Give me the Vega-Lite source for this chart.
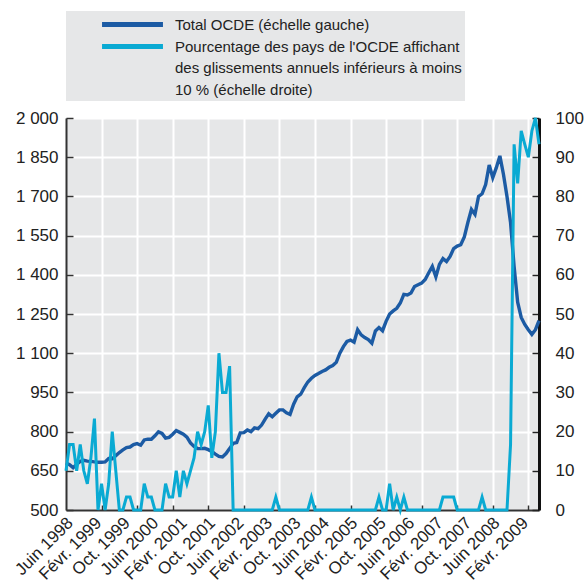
{
  "$schema": "https://vega.github.io/schema/vega-lite/v6.json",
  "autosize": {"type": "none"},
  "width": 473,
  "height": 392,
  "padding": {"left": 66, "top": 118, "right": 48, "bottom": 75},
  "background": "white",
  "config": {
    "view": {"fill": "#e6e7e8", "stroke": null},
    "font": "Liberation Sans"
  },
  "data": {"values": [
    {"mois": "Juin 1998", "total": 680, "pct": 10},
    {"mois": "Juil. 1998", "total": 673, "pct": 16.7},
    {"mois": "Août 1998", "total": 662, "pct": 16.7},
    {"mois": "Sept. 1998", "total": 675, "pct": 10},
    {"mois": "Oct. 1998", "total": 686, "pct": 16.7},
    {"mois": "Nov. 1998", "total": 690, "pct": 10},
    {"mois": "Déc. 1998", "total": 687, "pct": 6.7},
    {"mois": "Janv. 1999", "total": 686, "pct": 13.3},
    {"mois": "Févr. 1999", "total": 684, "pct": 23.3},
    {"mois": "Mars 1999", "total": 683, "pct": 0},
    {"mois": "Avr. 1999", "total": 683, "pct": 6.7},
    {"mois": "Mai 1999", "total": 684, "pct": 0},
    {"mois": "Juin 1999", "total": 697, "pct": 6.7},
    {"mois": "Juil. 1999", "total": 696, "pct": 20},
    {"mois": "Août 1999", "total": 708, "pct": 10},
    {"mois": "Sept. 1999", "total": 720, "pct": 0},
    {"mois": "Oct. 1999", "total": 730, "pct": 0},
    {"mois": "Nov. 1999", "total": 739, "pct": 3.3},
    {"mois": "Déc. 1999", "total": 741, "pct": 3.3},
    {"mois": "Janv. 2000", "total": 750, "pct": 0},
    {"mois": "Févr. 2000", "total": 754, "pct": 0},
    {"mois": "Mars 2000", "total": 748, "pct": 0},
    {"mois": "Avr. 2000", "total": 768, "pct": 6.7},
    {"mois": "Mai 2000", "total": 771, "pct": 3.3},
    {"mois": "Juin 2000", "total": 771, "pct": 3.3},
    {"mois": "Juil. 2000", "total": 784, "pct": 0},
    {"mois": "Août 2000", "total": 799, "pct": 0},
    {"mois": "Sept. 2000", "total": 793, "pct": 0},
    {"mois": "Oct. 2000", "total": 775, "pct": 6.7},
    {"mois": "Nov. 2000", "total": 778, "pct": 3.3},
    {"mois": "Déc. 2000", "total": 790, "pct": 3.3},
    {"mois": "Janv. 2001", "total": 804, "pct": 10},
    {"mois": "Févr. 2001", "total": 797, "pct": 3.3},
    {"mois": "Mars 2001", "total": 790, "pct": 10},
    {"mois": "Avr. 2001", "total": 779, "pct": 6.7},
    {"mois": "Mai 2001", "total": 757, "pct": 10},
    {"mois": "Juin 2001", "total": 743, "pct": 13.3},
    {"mois": "Juil. 2001", "total": 735, "pct": 20},
    {"mois": "Août 2001", "total": 735, "pct": 16.7},
    {"mois": "Sept. 2001", "total": 736, "pct": 20},
    {"mois": "Oct. 2001", "total": 731, "pct": 26.7},
    {"mois": "Nov. 2001", "total": 724, "pct": 13.3},
    {"mois": "Déc. 2001", "total": 714, "pct": 20},
    {"mois": "Janv. 2002", "total": 705, "pct": 40},
    {"mois": "Févr. 2002", "total": 703, "pct": 30},
    {"mois": "Mars 2002", "total": 716, "pct": 30},
    {"mois": "Avr. 2002", "total": 735, "pct": 36.7},
    {"mois": "Mai 2002", "total": 755, "pct": 0},
    {"mois": "Juin 2002", "total": 758, "pct": 0},
    {"mois": "Juil. 2002", "total": 795, "pct": 0},
    {"mois": "Août 2002", "total": 796, "pct": 0},
    {"mois": "Sept. 2002", "total": 806, "pct": 0},
    {"mois": "Oct. 2002", "total": 800, "pct": 0},
    {"mois": "Nov. 2002", "total": 814, "pct": 0},
    {"mois": "Déc. 2002", "total": 811, "pct": 0},
    {"mois": "Janv. 2003", "total": 825, "pct": 0},
    {"mois": "Févr. 2003", "total": 848, "pct": 0},
    {"mois": "Mars 2003", "total": 868, "pct": 0},
    {"mois": "Avr. 2003", "total": 857, "pct": 0},
    {"mois": "Mai 2003", "total": 870, "pct": 3.3},
    {"mois": "Juin 2003", "total": 883, "pct": 0},
    {"mois": "Juil. 2003", "total": 883, "pct": 0},
    {"mois": "Août 2003", "total": 872, "pct": 0},
    {"mois": "Sept. 2003", "total": 866, "pct": 0},
    {"mois": "Oct. 2003", "total": 905, "pct": 0},
    {"mois": "Nov. 2003", "total": 933, "pct": 0},
    {"mois": "Déc. 2003", "total": 943, "pct": 0},
    {"mois": "Janv. 2004", "total": 968, "pct": 0},
    {"mois": "Févr. 2004", "total": 990, "pct": 0},
    {"mois": "Mars 2004", "total": 1004, "pct": 3.3},
    {"mois": "Avr. 2004", "total": 1015, "pct": 0},
    {"mois": "Mai 2004", "total": 1022, "pct": 0},
    {"mois": "Juin 2004", "total": 1030, "pct": 0},
    {"mois": "Juil. 2004", "total": 1036, "pct": 0},
    {"mois": "Août 2004", "total": 1046, "pct": 0},
    {"mois": "Sept. 2004", "total": 1053, "pct": 0},
    {"mois": "Oct. 2004", "total": 1065, "pct": 0},
    {"mois": "Nov. 2004", "total": 1100, "pct": 0},
    {"mois": "Déc. 2004", "total": 1125, "pct": 0},
    {"mois": "Janv. 2005", "total": 1145, "pct": 0},
    {"mois": "Févr. 2005", "total": 1150, "pct": 0},
    {"mois": "Mars 2005", "total": 1142, "pct": 0},
    {"mois": "Avr. 2005", "total": 1190, "pct": 0},
    {"mois": "Mai 2005", "total": 1170, "pct": 0},
    {"mois": "Juin 2005", "total": 1160, "pct": 0},
    {"mois": "Juil. 2005", "total": 1152, "pct": 0},
    {"mois": "Août 2005", "total": 1138, "pct": 0},
    {"mois": "Sept. 2005", "total": 1185, "pct": 0},
    {"mois": "Oct. 2005", "total": 1198, "pct": 3.3},
    {"mois": "Nov. 2005", "total": 1186, "pct": 0},
    {"mois": "Déc. 2005", "total": 1222, "pct": 0},
    {"mois": "Janv. 2006", "total": 1250, "pct": 6.7},
    {"mois": "Févr. 2006", "total": 1262, "pct": 0},
    {"mois": "Mars 2006", "total": 1272, "pct": 3.3},
    {"mois": "Avr. 2006", "total": 1292, "pct": 0},
    {"mois": "Mai 2006", "total": 1325, "pct": 3.3},
    {"mois": "Juin 2006", "total": 1323, "pct": 0},
    {"mois": "Juil. 2006", "total": 1330, "pct": 0},
    {"mois": "Août 2006", "total": 1355, "pct": 0},
    {"mois": "Sept. 2006", "total": 1362, "pct": 0},
    {"mois": "Oct. 2006", "total": 1368, "pct": 0},
    {"mois": "Nov. 2006", "total": 1382, "pct": 0},
    {"mois": "Déc. 2006", "total": 1408, "pct": 0},
    {"mois": "Janv. 2007", "total": 1432, "pct": 0},
    {"mois": "Févr. 2007", "total": 1392, "pct": 0},
    {"mois": "Mars 2007", "total": 1440, "pct": 0},
    {"mois": "Avr. 2007", "total": 1462, "pct": 3.3},
    {"mois": "Mai 2007", "total": 1451, "pct": 3.3},
    {"mois": "Juin 2007", "total": 1470, "pct": 3.3},
    {"mois": "Juil. 2007", "total": 1500, "pct": 3.3},
    {"mois": "Août 2007", "total": 1510, "pct": 0},
    {"mois": "Sept. 2007", "total": 1515, "pct": 0},
    {"mois": "Oct. 2007", "total": 1545, "pct": 0},
    {"mois": "Nov. 2007", "total": 1600, "pct": 0},
    {"mois": "Déc. 2007", "total": 1650, "pct": 0},
    {"mois": "Janv. 2008", "total": 1631, "pct": 0},
    {"mois": "Févr. 2008", "total": 1700, "pct": 0},
    {"mois": "Mars 2008", "total": 1710, "pct": 3.3},
    {"mois": "Avr. 2008", "total": 1745, "pct": 0},
    {"mois": "Mai 2008", "total": 1820, "pct": 0},
    {"mois": "Juin 2008", "total": 1772, "pct": 0},
    {"mois": "Juil. 2008", "total": 1810, "pct": 0},
    {"mois": "Août 2008", "total": 1855, "pct": 0},
    {"mois": "Sept. 2008", "total": 1785, "pct": 0},
    {"mois": "Oct. 2008", "total": 1700, "pct": 0},
    {"mois": "Nov. 2008", "total": 1600, "pct": 16.7},
    {"mois": "Déc. 2008", "total": 1432, "pct": 93.3},
    {"mois": "Janv. 2009", "total": 1295, "pct": 83.3},
    {"mois": "Févr. 2009", "total": 1237, "pct": 96.7},
    {"mois": "Mars 2009", "total": 1210, "pct": 93.3},
    {"mois": "Avr. 2009", "total": 1190, "pct": 90},
    {"mois": "Mai 2009", "total": 1172, "pct": 96.7},
    {"mois": "Juin 2009", "total": 1190, "pct": 100},
    {"mois": "Juil. 2009", "total": 1225, "pct": 93.3}
  ]},
  "encoding": {
    "x": {
      "field": "mois", "type": "ordinal", "sort": null,
      "scale": {"type": "point", "padding": 0},
      "axis": {
        "title": null,
        "values": ["Juin 1998", "Avr. 1999", "Févr. 1999", "Oct. 1999", "Févr. 2000", "Juin 2000", "Déc. 2000", "Févr. 2001", "Oct. 2001", "Juin 2002", "Août 2002", "Févr. 2003", "Juin 2003", "Oct. 2003", "Avr. 2004", "Juin 2004", "Févr. 2005", "Oct. 2005", "Déc. 2005", "Juin 2006", "Oct. 2006", "Févr. 2007", "Août 2007", "Oct. 2007", "Juin 2008", "Févr. 2009", "Avr. 2009"],
        "labelExpr": "indexof(['Juin 1998','Févr. 1999','Oct. 1999','Juin 2000','Févr. 2001','Oct. 2001','Juin 2002','Févr. 2003','Oct. 2003','Juin 2004','Févr. 2005','Oct. 2005','Juin 2006','Févr. 2007','Oct. 2007','Juin 2008','Févr. 2009'], datum.value) >= 0 ? datum.value : ''",
        "labelAngle": -45,
        "labelAlign": "right",
        "labelBaseline": "middle",
        "labelOffset": 4,
        "labelPadding": 15,
        "labelFont": "Liberation Sans",
        "labelFontSize": 17,
        "labelColor": "#222",
        "labelOverlap": false,
        "tickSize": -5,
        "tickColor": "#333",
        "tickWidth": 1.5,
        "tickOpacity": {"condition": {"test": "indexof(['Avr. 1999','Févr. 2000','Déc. 2000','Oct. 2001','Août 2002','Juin 2003','Avr. 2004','Févr. 2005','Déc. 2005','Oct. 2006','Août 2007','Juin 2008','Avr. 2009'], datum.value) >= 0", "value": 1}, "value": 0},
        "grid": true,
        "gridColor": "white",
        "gridWidth": 2,
        "gridOpacity": {"condition": {"test": "indexof(['Avr. 1999','Févr. 2000','Déc. 2000','Oct. 2001','Août 2002','Juin 2003','Avr. 2004','Févr. 2005','Déc. 2005','Oct. 2006','Août 2007','Juin 2008','Avr. 2009'], datum.value) >= 0", "value": 1}, "value": 0},
        "domainColor": "#333",
        "domainWidth": 2
      }
    }
  },
  "layer": [
    {
      "mark": {"type": "line", "strokeWidth": 3.4},
      "encoding": {
        "y": {
          "field": "total", "type": "quantitative",
          "scale": {"domain": [500, 2000], "nice": false, "zero": false},
          "axis": {
            "title": null, "orient": "left",
            "values": [500, 650, 800, 950, 1100, 1250, 1400, 1550, 1700, 1850, 2000],
            "labelExpr": "replace(format(datum.value, ','), ',', ' ')",
            "labelFont": "Liberation Sans", "labelFontSize": 17, "labelColor": "#222",
            "labelPadding": 15,
            "tickSize": -7, "tickColor": "#333", "tickWidth": 1.5,
            "grid": true, "gridColor": "white", "gridWidth": 2,
            "domainColor": "#333", "domainWidth": 2
          }
        },
        "color": {
          "datum": "Total OCDE (échelle gauche)",
          "type": "nominal",
          "scale": {
            "domain": ["Total OCDE (échelle gauche)", "Pourcentage des pays de l'OCDE affichant des glissements annuels inférieurs à moins 10 % (échelle droite)"],
            "range": ["#1c5ba4", "#0aaad3"]
          },
          "legend": {
            "title": null,
            "orient": "none",
            "legendX": 0,
            "legendY": -107,
            "direction": "vertical",
            "fillColor": "#e6e7e8",
            "padding": 3,
            "symbolType": "M-4,0H4",
            "symbolSize": 232,
            "symbolStrokeWidth": 5,
            "symbolOffset": 53,
            "labelOffset": 32,
            "labelFont": "Liberation Sans",
            "labelFontSize": 15,
            "labelColor": "#222",
            "labelLimit": 500,
            "labelBaseline": "alphabetic",
            "rowPadding": 1,
            "labelExpr": "datum.value == 'Total OCDE (échelle gauche)' ? datum.value : [\"Pourcentage des pays de l'OCDE affichant\", \"des glissements annuels inférieurs à moins\u00a0\u00a0\u00a0\", \"10 % (échelle droite)\"]",
            "encode": {
              "labels": {"update": {"dy": {"value": 5}, "lineHeight": {"value": 21.7}}}
            }
          }
        }
      }
    },
    {
      "mark": {"type": "line", "strokeWidth": 3},
      "encoding": {
        "y": {
          "field": "pct", "type": "quantitative",
          "scale": {"domain": [0, 100], "nice": false},
          "axis": {
            "title": null, "orient": "right",
            "values": [0, 10, 20, 30, 40, 50, 60, 70, 80, 90, 100],
            "labelFont": "Liberation Sans", "labelFontSize": 17, "labelColor": "#222",
            "labelPadding": 23,
            "tickSize": -7, "tickColor": "#222", "tickWidth": 1.5,
            "grid": false,
            "domainColor": "#111", "domainWidth": 3
          }
        },
        "color": {"datum": "Pourcentage des pays de l'OCDE affichant des glissements annuels inférieurs à moins 10 % (échelle droite)", "type": "nominal"}
      }
    }
  ],
  "resolve": {"scale": {"y": "independent"}}
}
